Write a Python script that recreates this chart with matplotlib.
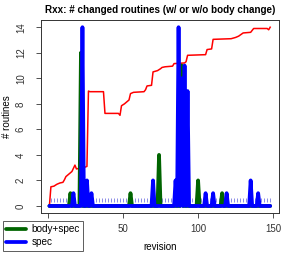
import matplotlib
matplotlib.use("Agg")
import matplotlib.pyplot as plt
import numpy as np

plt.rcParams['font.family'] = ['Liberation Sans', 'DejaVu Sans']

# revisions 1..148
revision = np.arange(1, 149)

# routines changed in spec only (blue), one value per revision
spec = [0, 0, 0, 0, 0, 0, 0, 0, 0, 0, 0, 0, 0, 0, 0, 0, 1, 0, 0, 0,
        0, 0, 14, 0, 0, 2, 0, 0, 1, 0, 0, 0, 0, 0, 0, 0, 0, 0, 0, 0,
        0, 0, 0, 0, 0, 0, 0, 0, 0, 0, 0, 0, 0, 0, 0, 0, 0, 0, 0, 0,
        0, 0, 0, 0, 0, 0, 0, 0, 0, 2, 0, 0, 0, 0, 0, 0, 0, 0, 0, 0,
        0, 0, 0, 0, 2, 0, 14, 0, 10, 0, 11, 0, 9, 0, 0, 0, 0, 0, 0, 0,
        0, 0, 0, 0, 1, 0, 0, 0, 0, 1, 0, 0, 0, 0, 0, 0, 0, 0, 1, 0,
        0, 0, 0, 0, 0, 0, 0, 0, 0, 0, 0, 0, 0, 0, 2, 0, 0, 0, 0, 1,
        0, 0, 0, 0, 0, 0, 0, 0]

# routines changed in body and spec (green)
body_spec = [0, 0, 0, 0, 0, 0, 0, 0, 0, 0, 0, 0, 0, 0, 1, 0, 0, 0, 0, 0,
             0, 12, 0, 0, 0, 0, 0, 0, 0, 0, 0, 0, 0, 0, 0, 0, 0, 0, 0, 0,
             0, 0, 0, 0, 0, 0, 0, 0, 0, 0, 0, 0, 0, 0, 1, 0, 0, 0, 0, 0,
             0, 0, 0, 0, 0, 0, 0, 0, 0, 0, 0, 0, 0, 4, 0, 0, 0, 0, 0, 0,
             0, 0, 0, 0, 0, 0, 0, 0, 11, 0, 0, 0, 0, 0, 0, 0, 0, 0, 0, 2,
             0, 0, 0, 0, 0, 0, 0, 0, 0, 0, 0, 0, 0, 0, 0, 1, 0, 0, 0, 0,
             0, 0, 0, 0, 0, 0, 0, 0, 0, 0, 0, 0, 0, 0, 0, 0, 0, 0, 0, 0,
             0, 0, 0, 0, 0, 0, 0, 0]

# red curve at its corners
red_rev = [1, 2, 4, 6, 8, 10, 11, 12, 14, 16, 17, 18, 19, 21, 23, 25, 26, 27, 28,
           37, 38, 47, 48, 49, 51, 53, 54, 55, 57, 64, 65, 66, 69, 70, 73, 75, 76,
           78, 83, 84, 91, 92, 93, 105, 106, 109, 110, 122, 125, 127, 130, 135,
           137, 146, 147, 148]
red_val = [0, 1.5, 1.55, 1.7, 1.8, 1.85, 2.05, 2.3, 2.5, 2.7, 2.95, 3.2, 2.9, 2.95,
           3.0, 3.05, 3.1, 9.0, 8.95, 8.95, 7.25, 7.25, 7.1, 7.85, 8.0, 8.2, 8.3,
           8.8, 8.9, 8.95, 9.1, 9.4, 9.45, 10.5, 10.6, 10.75, 10.85, 10.9, 10.95,
           11.15, 11.2, 11.3, 11.8, 11.85, 12.25, 12.3, 13.05, 13.1, 13.2, 13.3,
           13.55, 13.6, 13.9, 13.9, 13.8, 14.0]

# dotted reference level
dot_rev = revision[1::2]
dot_level = [0.5] * len(dot_rev)

# x tick labels ("0" sits under the legend in the original)
x_ticks = [0, 50, 100, 150]
x_labels = ['', '50', '100', '150']

fig = plt.figure(figsize=(2.94, 2.54), dpi=100)
ax = fig.add_axes([0.138, 0.161, 0.811, 0.760])

ax.plot(red_rev, red_val, color='#ff0000', lw=1.1, zorder=2)
ax.plot(dot_rev, dot_level, linestyle='none', marker='|', markersize=3.0,
        mew=0.7, color='#8c8ce6', zorder=1)
ax.plot(revision, body_spec, color='#006400', lw=2.7, zorder=3,
        solid_joinstyle='round', solid_capstyle='round', label='body+spec')
ax.plot(revision, spec, color='#0000ff', lw=2.7, zorder=4,
        solid_joinstyle='round', solid_capstyle='round', label='spec')

ax.set_xlim(1 - 0.04 * 147, 148 + 0.04 * 147)
ax.set_ylim(-0.56, 14.56)
ax.set_xticks(x_ticks)
ax.set_xticklabels(x_labels)
ax.set_yticks(range(0, 15, 2))
ax.tick_params(labelsize=7, length=3.5, width=0.6, colors='#333333')
ax.tick_params(axis='x', pad=4)
ax.tick_params(axis='y', pad=7)
for lbl in ax.get_yticklabels():
    lbl.set_rotation(90)
    lbl.set_va('center')
for s in ax.spines.values():
    s.set_linewidth(0.7)
    s.set_color('#333333')

ax.set_title('Rxx: # changed routines (w/ or w/o body change)',
             fontsize=7.1, fontweight='bold', pad=5)
ax.set_xlabel('revision', fontsize=7, labelpad=6)
ax.set_ylabel('# routines', fontsize=7, labelpad=3)

leg = fig.legend(loc='upper left', bbox_to_anchor=(0.01, 1 - 221 / 254),
                 fontsize=7.2, frameon=True, fancybox=False, handlelength=2.0,
                 borderpad=0.35, labelspacing=0.25, handletextpad=0.5,
                 borderaxespad=0)
leg.get_frame().set_edgecolor('#333333')
leg.get_frame().set_linewidth(0.7)

fig.savefig('out.png', dpi=100)
